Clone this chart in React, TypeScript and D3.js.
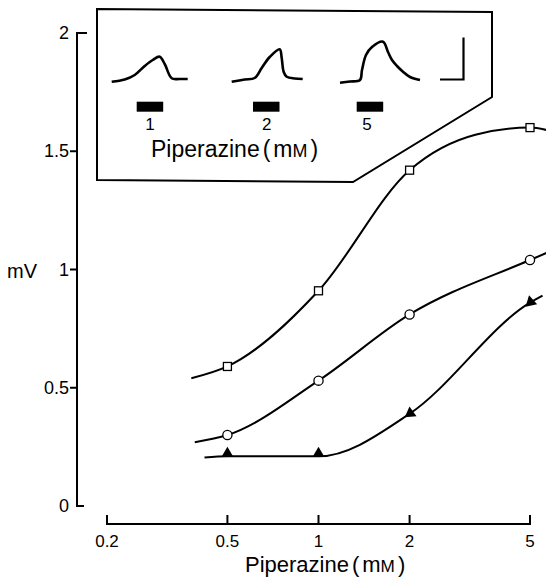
import * as d3 from "d3";

// Piperazine concentrations (mM) of the plotted points
const concentrations = [0.5, 1, 2, 5];
// mean response (mV) for each symbol
const squareMv = [0.59, 0.91, 1.42, 1.6];
const circleMv = [0.3, 0.53, 0.81, 1.04];
const triangleMv = [0.21, 0.21, 0.39, 0.86];

// hand-fitted curves (x in mM, y in mV)
const squareFitX = [0.38, 0.5, 1, 2, 3.3, 5, 5.67];
const squareFitMv = [0.54, 0.59, 0.91, 1.42, 1.57, 1.6, 1.59];
const circleFitX = [0.39, 0.5, 1, 2, 5, 5.67];
const circleFitMv = [0.27, 0.3, 0.53, 0.81, 1.04, 1.07];
const triangleFitX = [0.42, 0.5, 1, 2, 5, 5.5];
const triangleFitMv = [0.205, 0.21, 0.21, 0.39, 0.86, 0.89];

const xTicks = [0.2, 0.5, 1, 2, 5];
const xTickLabels = ["0.2", "0.5", "1", "2", "5"];
const yTicks = [0, 0.5, 1, 1.5, 2];
const yTickLabels = ["0", "0.5", "1", "1.5", "2"];

// inset: example responses, time (px) vs height above baseline (px)
const insetDoses = ["1", "2", "5"];
const trace1T = [0, 13, 23, 33, 41, 48, 53, 60, 68, 76];
const trace1A = [-1.7, 0.5, 5, 14, 20, 23.3, 16, 1.7, 1, 1];
const trace2T = [0, 13, 23, 30, 38, 48, 50, 52, 55, 63, 71];
const trace2A = [-1.7, 0.5, 2, 12, 23, 30.7, 22, 8, 3.3, 1.5, 1];
const trace3T = [0, 10, 20, 22, 26, 32, 43, 48, 52, 57, 63, 70, 80];
const trace3A = [-2.7, -1.5, 0, 10, 25, 33, 38.3, 28, 20, 14, 8.3, 3, 0];
const traces = [
  { t: trace1T, a: trace1A },
  { t: trace2T, a: trace2A },
  { t: trace3T, a: trace3A },
];

const W = 546;
const H = 577;
const FONT = "'Liberation Sans', Arial, Helvetica, sans-serif";

const x = d3.scaleLog().domain([0.2, 5]).range([107, 530]);
const y = d3.scaleLinear().domain([0, 2]).range([506, 33]);

const fitLine = d3
  .line<[number, number]>()
  .x((d) => x(d[0]))
  .y((d) => y(d[1]))
  .curve(d3.curveMonotoneX);

const zip = (a: number[], b: number[]) =>
  a.map((v, i) => [v, b[i]] as [number, number]);

// inset layout
const traceStarts = [111.7, 231.7, 340];
const traceBase = 80;
const barStarts = [136.7, 253, 356.7];
const doseLabelX = [150, 266.7, 367];
const traceLine = d3
  .line<[number, number]>()
  .x((d) => d[0])
  .y((d) => traceBase - d[1])
  .curve(d3.curveCatmullRom.alpha(0.5));

function Triangle({ cx, cy, angle }: { cx: number; cy: number; angle: number }) {
  // filled triangle, apex pointing along angle (deg)
  const s = 6;
  return (
    <path
      d={`M0,${-s} L${s},${s * 0.7} L${-s},${s * 0.7} Z`}
      transform={`translate(${cx},${cy}) rotate(${angle})`}
      fill="#000"
    />
  );
}

function PipLabel({ x0, y0, size }: { x0: number; y0: number; size: number }) {
  return (
    <text x={x0} y={y0} fontSize={size}>
      Piperazine
      <tspan dx={3}>(</tspan>
      <tspan dx={3}>m</tspan>
      <tspan fontSize={size * 0.78}>M</tspan>
      <tspan dx={3}>)</tspan>
    </text>
  );
}

export default function App() {
  const axisY = 524;
  const triPts = zip(concentrations, triangleMv);

  return (
    <svg
      width={W}
      height={H}
      viewBox={`0 0 ${W} ${H}`}
      style={{ position: "absolute", left: 0, top: 0, background: "#fff" }}
      fontFamily={FONT}
    >
      {/* inset frame */}
      <path
        d="M97,9 L492,12 L492,97 L353,182 L97,180 Z"
        fill="none"
        stroke="#000"
        strokeWidth={2}
      />
      {traces.map((tr, i) => (
        <path
          key={"tr" + i}
          d={
            traceLine(
              tr.t.map((t, j) => [traceStarts[i] + t, tr.a[j]] as [number, number])
            ) || ""
          }
          fill="none"
          stroke="#000"
          strokeWidth={2.6}
          strokeLinejoin="round"
        />
      ))}
      {/* scale bar */}
      <path d="M440,79.5 L463.5,79.5 L463.5,37.5" fill="none" stroke="#000" strokeWidth={2.2} />
      {insetDoses.map((d, i) => (
        <g key={"dose" + d}>
          <rect x={barStarts[i]} y={101.7} width={26.5} height={10} fill="#000" />
          <text x={doseLabelX[i]} y={130} fontSize={17} textAnchor="middle">
            {d}
          </text>
        </g>
      ))}
      <PipLabel x0={151} y0={157} size={23} />

      {/* y axis */}
      <line x1={77} x2={77} y1={y(0)} y2={y(2)} stroke="#000" strokeWidth={2} />
      <line x1={76} x2={87} y1={y(2)} y2={y(2)} stroke="#000" strokeWidth={2} />
      <line x1={76} x2={84} y1={y(0)} y2={y(0)} stroke="#000" strokeWidth={2} />
      {yTicks.map((t, i) => (
        <g key={"yt" + t}>
          {t > 0 && t < 2 && (
            <line x1={70} x2={77} y1={y(t)} y2={y(t)} stroke="#000" strokeWidth={2} />
          )}
          <text x={69} y={y(t) + 6} fontSize={18} textAnchor="end">
            {yTickLabels[i]}
          </text>
        </g>
      ))}
      <text x={7} y={278} fontSize={20}>
        mV
      </text>

      {/* x axis */}
      <line x1={x(0.2) - 1} x2={x(5) + 1} y1={axisY} y2={axisY} stroke="#000" strokeWidth={2} />
      {xTicks.map((t, i) => (
        <g key={"xt" + t}>
          <line x1={x(t)} x2={x(t)} y1={axisY} y2={axisY - 9} stroke="#000" strokeWidth={2} />
          <text x={x(t)} y={547} fontSize={17} textAnchor="middle">
            {xTickLabels[i]}
          </text>
        </g>
      ))}
      <PipLabel x0={245} y0={572} size={22} />

      {/* fitted curves */}
      {[
        zip(squareFitX, squareFitMv),
        zip(circleFitX, circleFitMv),
        zip(triangleFitX, triangleFitMv),
      ].map((pts, i) => (
        <path
          key={"fit" + i}
          d={fitLine(pts) || ""}
          fill="none"
          stroke="#000"
          strokeWidth={2}
        />
      ))}

      {/* markers */}
      {zip(concentrations, squareMv).map((d, i) => (
        <rect
          key={"sq" + i}
          x={x(d[0]) - 4}
          y={y(d[1]) - 4}
          width={8}
          height={8}
          fill="#fff"
          stroke="#000"
          strokeWidth={1.3}
        />
      ))}
      {zip(concentrations, circleMv).map((d, i) => (
        <circle
          key={"ci" + i}
          cx={x(d[0])}
          cy={y(d[1])}
          r={4.6}
          fill="#fff"
          stroke="#000"
          strokeWidth={1.3}
        />
      ))}
      {triPts.map((d, i) => {
        const prev = triPts[Math.max(0, i - 1)];
        const next = triPts[Math.min(triPts.length - 1, i + 1)];
        const dx = x(next[0]) - x(prev[0]);
        const dy = y(next[1]) - y(prev[1]);
        const slope = (Math.atan2(dy, dx) * 180) / Math.PI;
        // flat part: apex up sitting on the line; steep part: arrowhead pointing down the curve
        const flat = Math.abs(slope) < 20;
        const angle = flat ? 0 : slope - 90;
        return (
          <Triangle
            key={"tri" + i}
            cx={x(d[0])}
            cy={flat ? y(d[1]) - 3.5 : y(d[1])}
            angle={angle}
          />
        );
      })}
    </svg>
  );
}
